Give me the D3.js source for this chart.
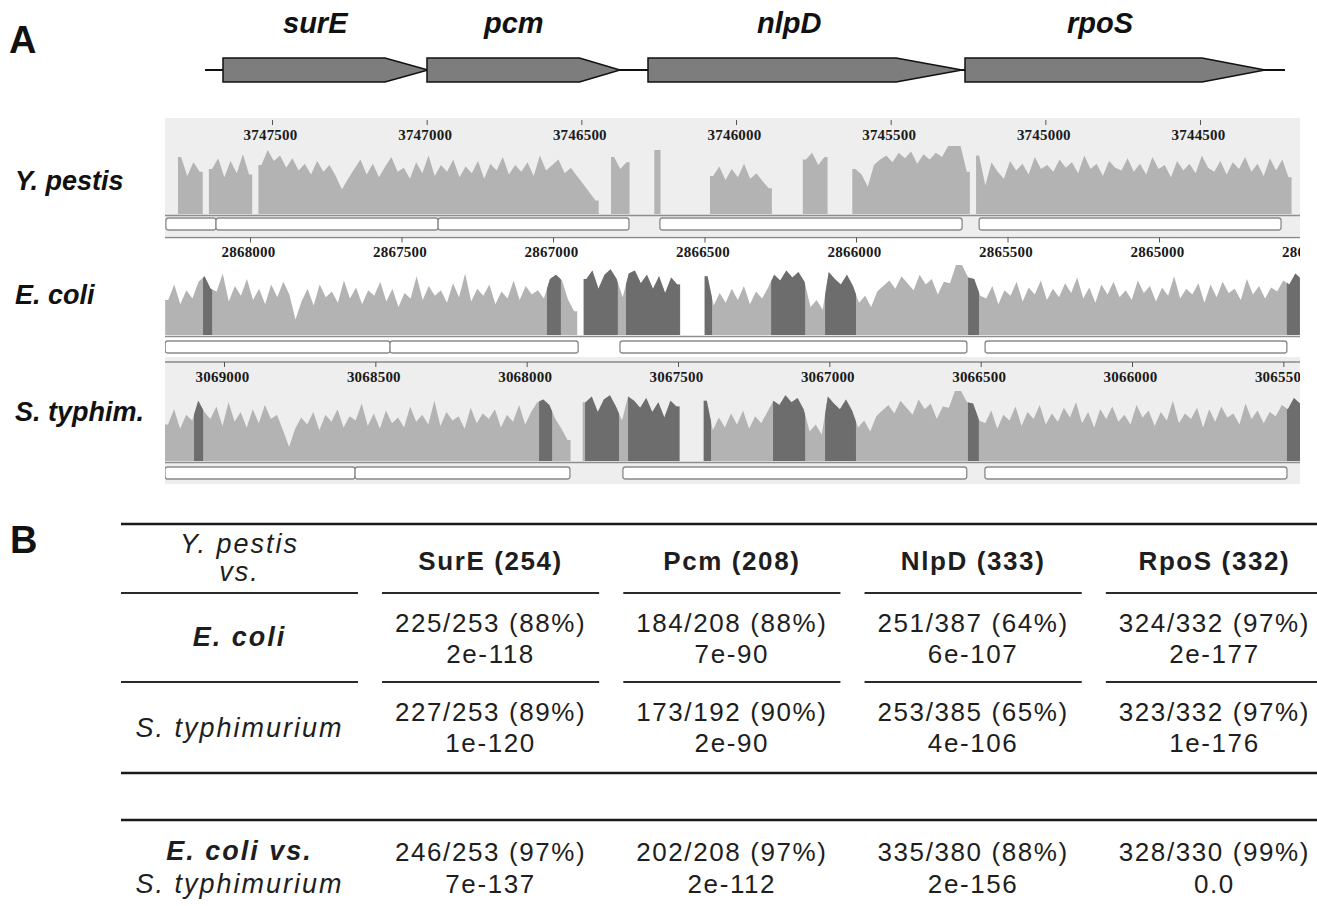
<!DOCTYPE html>
<html>
<head>
<meta charset="utf-8">
<script src="https://cdn.jsdelivr.net/npm/d3@7/dist/d3.min.js"></script>
<style>
  body { margin: 0; background: #fff; }
  svg { display: block; }
</style>
</head>
<body>
<div id="figure"></div>
<script>
// gene map, diagram units along the backbone
var backbone = [0, 1080];
var geneNames = ["surE", "pcm", "nlpD", "rpoS"];
var geneStart = [18, 222, 443, 760];
var geneEnd = [223, 415, 757, 1060];

// alignment tracks
var trackNames = ["Y. pestis", "E. coli", "S. typhim."];
var ypTicks = [3747500, 3747000, 3746500, 3746000, 3745500, 3745000, 3744500];
var ecTicks = [2868000, 2867500, 2867000, 2866500, 2866000, 2865500, 2865000, 2864500];
var stTicks = [3069000, 3068500, 3068000, 3067500, 3067000, 3066500, 3066000, 3065500];

// coverage, one value per 20 bp bin, counted from the first position of each track
var binBp = 20;
var ypStart = 3747804, ecStart = 2868280, stStart = 3069195;

var ypCov = [84, 56, 76, 62, 0,
    66, 82, 54, 78, 60, 88, 58, 0,
    72, 94, 78, 86, 68, 82, 64, 74, 58, 78, 62, 72, 56, 36,
    52, 66, 80, 58, 74, 54, 70, 84, 62,
    68, 52, 76, 60, 86, 56, 72, 62, 80, 54,
    70, 60, 78, 52, 74, 64, 84, 58, 72, 62,
    76, 56, 86, 64, 72, 80, 60, 68, 56, 44, 32, 20,
    0, 0, 84, 66, 76, 0, 0, 0, 0, 94, 0, 0, 0, 0, 0, 0, 0, 0,
    56, 70, 50, 66, 54, 74, 52, 60, 48, 38, 0, 0, 0, 0, 0,
    80, 90, 72, 84, 0, 0, 0, 0,
    66, 58, 40, 72, 80, 86, 76, 90, 82, 92, 74, 88, 80, 90, 84, 100, 100, 100, 62, 0,
    86, 42, 76, 62, 52, 78, 64, 74, 58, 84, 66, 72, 62, 80, 68, 76, 60, 86, 66, 74,
    56, 78, 68, 64, 82, 62, 74, 58, 84, 66, 72, 54, 78, 64, 74, 60, 86, 68, 62, 78,
    58, 76, 66, 84, 62, 74, 56, 82, 64, 80, 54];

var ecCov = [50, 72, 44, 64, 52, 76, 84, 66,
    62, 88, 48, 70, 56, 80, 50, 66, 44, 72, 54, 76, 58, 22,
    48, 66, 42, 72, 54, 62, 46, 78, 52, 68, 44, 64, 56, 76, 48, 66, 40, 60, 52, 84,
    50, 70, 56, 64, 46, 74, 54, 88, 48, 66, 56, 72, 44, 62, 52, 78, 50, 70, 58, 64, 52, 80,
    86, 78, 50, 34, 0,
    80, 92, 66, 86, 94, 80,
    54, 88, 92, 74, 86, 66, 84, 60, 82, 72, 0, 0, 0, 0, 84,
    42, 60, 46, 66, 50, 70, 44, 62, 52, 68,
    86, 78, 92, 82, 90, 76, 40, 50, 36, 90, 80, 72, 86, 70,
    46, 56, 40, 62, 70, 78, 66, 84, 74, 64, 86, 72, 80, 58, 76, 74, 100, 100, 82, 80, 56,
    52, 70, 44, 64, 56, 76, 48, 68, 58, 78, 50, 66, 54, 74, 60, 82, 52, 68, 46, 72,
    58, 76, 54, 64, 50, 78, 60, 70, 48, 68, 56, 84, 52, 66, 58, 74, 46, 72, 54, 76,
    60, 66, 50, 80, 58, 70, 52, 68, 62, 78, 72, 88, 80];

var stCov = [52, 74, 46, 66, 58, 86, 70,
    60, 78, 50, 84, 56, 70, 48, 74, 54, 80, 60, 66, 44, 20,
    46, 62, 52, 70, 44, 66, 56, 74, 48, 64, 58, 82, 50, 68, 46, 72, 54, 62, 48, 78,
    56, 66, 52, 86, 50, 70, 58, 64, 46, 76, 54, 68, 60, 74, 48, 66, 56, 80, 52, 70, 84,
    88, 80, 60, 46, 30, 0, 0,
    84, 92, 70, 88, 94, 78, 58, 92, 86, 76, 90, 70, 84, 62, 86, 78, 0, 0, 0, 0, 86,
    44, 62, 48, 68, 52, 72, 46, 64, 54, 70,
    86, 80, 94, 84, 90, 74, 42, 52, 38, 92, 82, 74, 88, 72,
    48, 58, 42, 64, 72, 80, 68, 86, 76, 66, 88, 74, 82, 60, 78, 76, 100, 100, 84, 82, 58,
    54, 72, 46, 66, 58, 78, 50, 70, 60, 80, 52, 68, 56, 76, 62, 84, 54, 70, 48, 74,
    60, 78, 56, 66, 52, 80, 62, 72, 50, 70, 58, 86, 54, 68, 60, 76, 48, 74, 56, 78,
    62, 68, 52, 82, 60, 72, 54, 70, 64, 80, 74, 90, 82];

// stretches matched by conserved (dark) windows, in genome coordinates
var ecDark = [[2868155, 2868125], [2867020, 2866974], [2866898, 2866786], [2866759, 2866581],
    [2866500, 2866475], [2866280, 2866168], [2866102, 2866000], [2865630, 2865594], [2864578, 2864535]];
var stDark = [[3069099, 3069069], [3067959, 3067916], [3067807, 3067695], [3067665, 3067490],
    [3067418, 3067391], [3067186, 3067080], [3067014, 3066912], [3066542, 3066506], [3065488, 3065445]];

// annotated features below each track
var ypBoxes = [[3747843, 3747681], [3747681, 3746963], [3746963, 3746346], [3746246, 3745269], [3745214, 3744238]];
var ecBoxes = [[2868280, 2867538], [2867538, 2866917], [2866779, 2865634], [2865574, 2864578]];
var stBoxes = [[3069195, 3068567], [3068567, 3067857], [3067682, 3066546], [3066486, 3065488]];

// table B
var tableCols = ["SurE (254)", "Pcm (208)", "NlpD (333)", "RpoS (332)"];
var headLabel = ["Y. pestis", "vs."];
var rowLabels = [["E. coli"], ["S. typhimurium"], ["E. coli vs.", "S. typhimurium"]];
var identities = [
    ["225/253 (88%)", "184/208 (88%)", "251/387 (64%)", "324/332 (97%)"],
    ["227/253 (89%)", "173/192 (90%)", "253/385 (65%)", "323/332 (97%)"],
    ["246/253 (97%)", "202/208 (97%)", "335/380 (88%)", "328/330 (99%)"]];
var evalues = [
    ["2e-118", "7e-90", "6e-107", "2e-177"],
    ["1e-120", "2e-90", "4e-106", "1e-176"],
    ["7e-137", "2e-112", "2e-156", "0.0"]];

var W = 1317, H = 906;
var sans = "'Liberation Sans', Arial, sans-serif";
var svg = d3.select("#figure").append("svg")
    .attr("width", W)
    .attr("height", H)
    .style("font-family", sans);

svg.append("text").attr("x", 9).attr("y", 53)
    .style("font-size", "38px").style("font-weight", "bold").style("fill", "#111").text("A");
svg.append("text").attr("x", 10).attr("y", 553)
    .style("font-size", "38px").style("font-weight", "bold").style("fill", "#111").text("B");

//Gene map
var xMap = d3.scaleLinear().domain(backbone).range([205, 1285]);
svg.append("line")
    .attr("x1", xMap(backbone[0])).attr("x2", xMap(backbone[1]))
    .attr("y1", 70).attr("y2", 70)
    .style("stroke", "#111").style("stroke-width", 2);

var genes = geneNames.map(function (n, i) { return {name: n, s: geneStart[i], e: geneEnd[i]}; });
svg.selectAll(".gene").data(genes).enter().append("path")
    .attr("class", "gene")
    .attr("d", function (d) {
        var x0 = xMap(d.s), x1 = xMap(d.e), h = (x1 - x0) * 0.21;
        return "M" + x0 + ",58 L" + (x1 - h) + ",58 L" + x1 + ",70 L" + (x1 - h) + ",82 L" + x0 + ",82 Z";
    })
    .style("fill", "#7d7d7d")
    .style("stroke", "#111")
    .style("stroke-width", 1.5);

svg.selectAll(".geneLabel").data(genes).enter().append("text")
    .attr("class", "geneLabel")
    .attr("x", function (d) { return xMap(d.s) + 0.45 * (xMap(d.e) - xMap(d.s)); })
    .attr("y", 33)
    .style("text-anchor", "middle")
    .style("font-size", "29px")
    .style("font-weight", "bold")
    .style("font-style", "italic")
    .style("fill", "#111")
    .text(function (d) { return d.name; });

//Tracks
var panelX0 = 165, panelX1 = 1300;
var tracks = [
    {name: trackNames[0], ticks: ypTicks, start: ypStart, cov: ypCov, dark: [], boxes: ypBoxes,
        dom: [3747500, 3744500], rng: [272, 1200], top: 118, height: 118, axisY: 120, axisLine: false,
        base: 214, covTop: 146, boxY: 218, bg: "#eeeeee", labelY: 190},
    {name: trackNames[1], ticks: ecTicks, start: ecStart, cov: ecCov, dark: ecDark, boxes: ecBoxes,
        dom: [2868000, 2865000], rng: [250, 1159], top: 236, height: 121, axisY: 237.5, axisLine: true,
        base: 335, covTop: 265, boxY: 341, bg: "#ffffff", labelY: 304},
    {name: trackNames[2], ticks: stTicks, start: stStart, cov: stCov, dark: stDark, boxes: stBoxes,
        dom: [3069000, 3066000], rng: [224, 1132], top: 357, height: 127, axisY: 362, axisLine: true,
        base: 461, covTop: 391, boxY: 467, bg: "#eeeeee", labelY: 421}
];

var defs = svg.append("defs");

function covPoints(t, x) {
    var pts = [];
    t.cov.forEach(function (v, i) {
        var a = x(t.start - i * binBp), b = x(t.start - (i + 1) * binBp);
        if (v > 0 && (i === 0 || t.cov[i - 1] === 0)) pts.push({x: a, v: v});
        pts.push({x: (a + b) / 2, v: v});
        if (v > 0 && (i === t.cov.length - 1 || t.cov[i + 1] === 0)) pts.push({x: b, v: v});
    });
    return pts;
}

tracks.forEach(function (t, ti) {
    var x = d3.scaleLinear().domain(t.dom).range(t.rng);
    var y = d3.scaleLinear().domain([0, 100]).range([t.base, t.covTop]);

    defs.append("clipPath").attr("id", "panel" + ti)
        .append("rect")
        .attr("x", panelX0).attr("y", t.top)
        .attr("width", panelX1 - panelX0).attr("height", t.height);

    var g = svg.append("g").attr("clip-path", "url(#panel" + ti + ")");

    g.append("rect")
        .attr("x", panelX0).attr("y", t.top)
        .attr("width", panelX1 - panelX0).attr("height", t.height)
        .style("fill", t.bg);

    var area = d3.area()
        .defined(function (d) { return d.v > 0; })
        .x(function (d) { return d.x; })
        .y0(t.base)
        .y1(function (d) { return y(d.v); });
    var pts = covPoints(t, x);

    g.append("path").attr("d", area(pts)).style("fill", "#b3b3b3");

    if (t.dark.length) {
        defs.append("clipPath").attr("id", "dark" + ti)
            .selectAll("rect").data(t.dark).enter().append("rect")
            .attr("x", function (d) { return x(d[0]); })
            .attr("width", function (d) { return x(d[1]) - x(d[0]); })
            .attr("y", t.top)
            .attr("height", t.height);
        g.append("path").attr("d", area(pts))
            .attr("clip-path", "url(#dark" + ti + ")")
            .style("fill", "#6d6d6d");
    }

    g.append("line")
        .attr("x1", panelX0).attr("x2", panelX1)
        .attr("y1", t.base + 1.5).attr("y2", t.base + 1.5)
        .style("stroke", "#8e8e8e").style("stroke-width", 1.5);

    g.selectAll(".box").data(t.boxes).enter().append("rect")
        .attr("x", function (d) { return x(d[0]); })
        .attr("width", function (d) { return x(d[1]) - x(d[0]); })
        .attr("y", t.boxY)
        .attr("height", 12)
        .attr("rx", 2.5)
        .style("fill", "#fff")
        .style("stroke", "#8a8a8a")
        .style("stroke-width", 1.3);

    if (t.axisLine) {
        g.append("line")
            .attr("x1", panelX0).attr("x2", panelX1)
            .attr("y1", t.axisY).attr("y2", t.axisY)
            .style("stroke", "#8a8a8a").style("stroke-width", 1.5);
    }

    var axis = d3.axisBottom(x)
        .tickValues(t.ticks)
        .tickSize(5)
        .tickPadding(4)
        .tickFormat(d3.format("d"));
    var ax = g.append("g")
        .attr("transform", "translate(0," + t.axisY + ")")
        .call(axis);
    ax.select(".domain").remove();
    ax.selectAll(".tick line").style("stroke", "#555");
    ax.selectAll(".tick text")
        .attr("dx", "-2")
        .style("font-family", "'Liberation Serif', 'Times New Roman', serif")
        .style("font-size", "15px")
        .style("font-weight", "bold")
        .style("letter-spacing", "0.2px")
        .style("fill", "#1a1a1a");

    svg.append("text")
        .attr("x", 15).attr("y", t.labelY)
        .style("font-size", "27px")
        .style("font-weight", "bold")
        .style("font-style", "italic")
        .style("fill", "#111")
        .text(t.name);
});

//Table
var tX0 = 121, tX1 = W;
var firstCol = [121, 358];
var colX = d3.scaleBand().domain(tableCols).range([382, 1323]).paddingInner(0.1);
var firstMid = (firstCol[0] + firstCol[1]) / 2;

[524, 773, 820].forEach(function (yy) {
    svg.append("line")
        .attr("x1", tX0).attr("x2", tX1).attr("y1", yy).attr("y2", yy)
        .style("stroke", "#1a1a1a").style("stroke-width", 2.4);
});
[593, 682].forEach(function (yy) {
    svg.append("line")
        .attr("x1", firstCol[0]).attr("x2", firstCol[1]).attr("y1", yy).attr("y2", yy)
        .style("stroke", "#2a2a2a").style("stroke-width", 2);
    svg.selectAll(null).data(tableCols).enter().append("line")
        .attr("x1", function (d) { return colX(d); })
        .attr("x2", function (d) { return colX(d) + colX.bandwidth(); })
        .attr("y1", yy).attr("y2", yy)
        .style("stroke", "#2a2a2a").style("stroke-width", 2);
});

function cellText(xx, yy, txt) {
    return svg.append("text")
        .attr("x", xx).attr("y", yy)
        .style("text-anchor", "middle")
        .style("font-size", "26px")
        .style("letter-spacing", "1.6px")
        .style("fill", "#1e1e1e")
        .text(txt);
}

cellText(firstMid, 553, headLabel[0]).style("font-style", "italic")
    .style("font-size", "27px").style("letter-spacing", "2px");
cellText(firstMid, 581, headLabel[1]).style("font-style", "italic")
    .style("font-size", "27px").style("letter-spacing", "2px");
tableCols.forEach(function (c) {
    cellText(colX(c) + colX.bandwidth() / 2, 570, c).style("font-weight", "bold");
});

var valueY = [[632, 663], [721, 752], [861, 893]];
var labelY = [[646], [737], [860, 893]];
rowLabels.forEach(function (lines, r) {
    lines.forEach(function (txt, k) {
        cellText(firstMid, labelY[r][k], txt)
            .style("font-style", "italic")
            .style("font-size", "27px")
            .style("letter-spacing", "2px")
            .style("font-weight", txt.indexOf("E. coli") === 0 ? "bold" : "normal");
    });
    tableCols.forEach(function (c, j) {
        var cx = colX(c) + colX.bandwidth() / 2;
        cellText(cx, valueY[r][0], identities[r][j]);
        cellText(cx, valueY[r][1], evalues[r][j]);
    });
});
</script>
</body>
</html>
